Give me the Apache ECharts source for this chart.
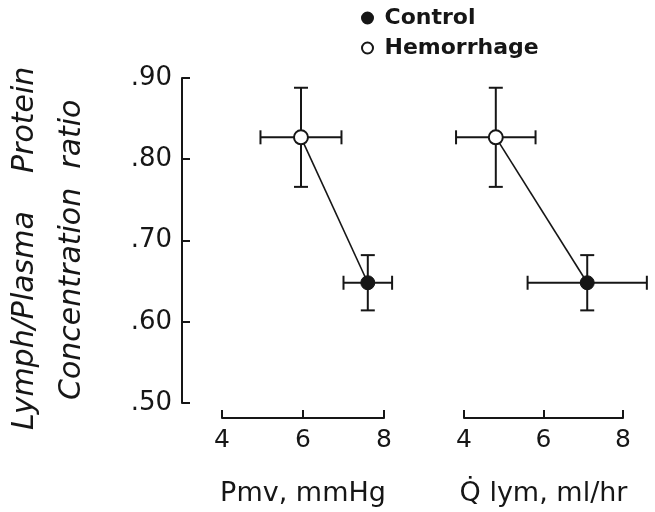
<!DOCTYPE html>
<html>
<head>
<meta charset="utf-8">
<script src="https://cdn.jsdelivr.net/npm/echarts@6/dist/echarts.min.js"></script>
<style>
  html, body { margin: 0; padding: 0; background: #fff; }
  #main { width: 655px; height: 512px; }
</style>
</head>
<body>
<div id="main"></div>
<script>
// order of every array: [Control, Hemorrhage]
const groups = ['Control', 'Hemorrhage'];
const pmvMean = [7.6, 5.95];
const pmvErr = [0.6, 1.0];
const qlymMean = [7.1, 4.8];
const qlymErr = [1.5, 1.0];
const ratioMean = [0.648, 0.827];
const ratioErr = [0.034, 0.061];
const xTicks = [4, 6, 8];
const yTicks = [0.5, 0.6, 0.7, 0.8, 0.9];

const ink = '#161616';
const font = 'DejaVu Sans';

const chart = echarts.init(document.getElementById('main'));

function errorBars(xs, xe, idx) {
  return {
    type: 'custom',
    name: 'err' + idx,
    xAxisIndex: idx,
    yAxisIndex: idx,
    clip: false,
    z: 2,
    data: groups.map((g, i) => [xs[i], ratioMean[i], xe[i], ratioErr[i]]),
    encode: { x: 0, y: 1 },
    renderItem: function (params, api) {
      const x = api.value(0), y = api.value(1), dx = api.value(2), dy = api.value(3);
      const top = api.coord([x, y + dy]);
      const bot = api.coord([x, y - dy]);
      const lft = api.coord([x - dx, y]);
      const rgt = api.coord([x + dx, y]);
      const c = 7;
      const st = { stroke: ink, lineWidth: 2 };
      const seg = (x1, y1, x2, y2) => ({ type: 'line', shape: { x1, y1, x2, y2 }, style: st });
      return {
        type: 'group',
        children: [
          seg(top[0], top[1], bot[0], bot[1]),
          seg(top[0] - c, top[1], top[0] + c, top[1]),
          seg(bot[0] - c, bot[1], bot[0] + c, bot[1]),
          seg(lft[0], lft[1], rgt[0], rgt[1]),
          seg(lft[0], lft[1] - c, lft[0], lft[1] + c),
          seg(rgt[0], rgt[1] - c, rgt[0], rgt[1] + c)
        ]
      };
    }
  };
}

function panelSeries(xs, xe, idx) {
  return [
    errorBars(xs, xe, idx),
    {
      type: 'line',
      name: 'link' + idx,
      xAxisIndex: idx,
      yAxisIndex: idx,
      clip: false,
      showSymbol: false,
      z: 3,
      lineStyle: { color: ink, width: 1.6 },
      data: [[xs[1], ratioMean[1]], [xs[0], ratioMean[0]]]
    },
    {
      type: 'scatter',
      name: 'Control',
      xAxisIndex: idx,
      yAxisIndex: idx,
      clip: false,
      symbolSize: 14,
      z: 4,
      itemStyle: { color: ink, borderColor: ink, borderWidth: 1, opacity: 1 },
      data: [[xs[0], ratioMean[0]]]
    },
    {
      type: 'scatter',
      name: 'Hemorrhage',
      xAxisIndex: idx,
      yAxisIndex: idx,
      clip: false,
      symbolSize: 14,
      z: 4,
      itemStyle: { color: '#fff', borderColor: ink, borderWidth: 2, opacity: 1 },
      data: [[xs[1], ratioMean[1]]]
    }
  ];
}

function xAxis(idx, title) {
  return {
    type: 'value',
    gridIndex: idx,
    min: xTicks[0],
    max: xTicks[xTicks.length - 1],
    interval: 2,
    offset: 15,
    axisLine: { lineStyle: { color: ink, width: 2 } },
    axisTick: { inside: true, length: 8, lineStyle: { color: ink, width: 2 } },
    axisLabel: { color: ink, fontSize: 25, fontFamily: font, margin: 10 },
    splitLine: { show: false },
    name: title,
    nameLocation: 'middle',
    nameGap: 62,
    nameTextStyle: { color: ink, fontSize: 27, fontFamily: font }
  };
}

function yAxis(idx, visible) {
  return {
    type: 'value',
    gridIndex: idx,
    show: visible,
    min: yTicks[0],
    max: yTicks[yTicks.length - 1],
    interval: 0.1,
    offset: 40,
    axisLine: { show: true, lineStyle: { color: ink, width: 2 } },
    axisTick: { show: true, inside: true, length: 8, lineStyle: { color: ink, width: 2 } },
    axisLabel: {
      color: ink, fontSize: 26, fontFamily: font, margin: 10,
      formatter: v => v.toFixed(2).replace(/^0/, '')
    },
    splitLine: { show: false }
  };
}

const option = {
  backgroundColor: '#fff',
  animation: false,
  legend: {
    data: groups,
    orient: 'vertical',
    left: 356,
    top: 2,
    icon: 'circle',
    itemWidth: 24,
    itemHeight: 11,
    itemGap: 8,
    textStyle: { color: ink, fontSize: 22, fontWeight: 'bold', fontFamily: font }
  },
  grid: [
    { left: 222, right: 271, top: 78, bottom: 107 },
    { left: 464, right: 32, top: 78, bottom: 107 }
  ],
  xAxis: [xAxis(0, 'Pmv, mmHg'), xAxis(1, 'Q\u0307 lym, ml/hr')],
  yAxis: [yAxis(0, true), yAxis(1, false)],
  graphic: [
    {
      type: 'text', x: 25, y: 430, rotation: Math.PI / 2,
      style: { text: 'Lymph/Plasma    Protein', font: 'italic 30px "DejaVu Sans"', fill: ink,
               textAlign: 'left', textVerticalAlign: 'middle' }
    },
    {
      type: 'text', x: 72, y: 400, rotation: Math.PI / 2,
      style: { text: 'Concentration  ratio', font: 'italic 30px "DejaVu Sans"', fill: ink,
               textAlign: 'left', textVerticalAlign: 'middle' }
    }
  ],
  series: [...panelSeries(pmvMean, pmvErr, 0), ...panelSeries(qlymMean, qlymErr, 1)]
};

chart.setOption(option);
</script>
</body>
</html>
